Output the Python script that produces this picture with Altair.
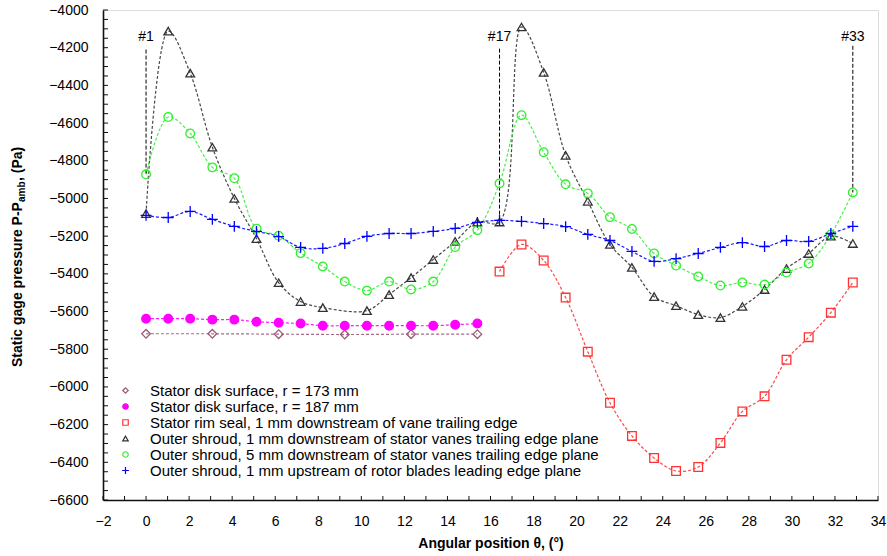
import altair as alt
import pandas as pd

# ---------------- data ----------------
positions = [0.0, 1.03, 2.05, 3.08, 4.10, 5.13, 6.16, 7.18, 8.21, 9.23, 10.26,
             11.29, 12.31, 13.34, 14.36, 15.39, 16.42, 17.44, 18.47, 19.49,
             20.52, 21.55, 22.57, 23.60, 24.62, 25.65, 26.68, 27.70, 28.73,
             29.75, 30.78, 31.81, 32.83]

disk173_pos = [0.0, 3.08, 6.16, 9.23, 12.31, 15.39]
disk173 = [-5718, -5718, -5720, -5722, -5720, -5720]

disk187_pos = positions[:16]
disk187 = [-5638, -5638, -5638, -5643, -5643, -5654, -5659, -5664, -5675,
           -5675, -5675, -5675, -5675, -5675, -5670, -5664]

rim_pos = positions[16:]
rim = [-5388, -5244, -5329, -5526, -5813, -6084, -6260, -6377, -6446, -6425,
       -6297, -6130, -6050, -5856, -5736, -5606, -5446]

shroud1 = [-5080, -4112, -4335, -4728, -5000, -5213, -5447, -5547, -5579, None,
           -5595, -5510, -5420, -5324, -5228, -5125, -5125, -4090, -4331,
           -4771, -5015, -5244, -5366, -5521, -5569, -5616, -5632, -5573,
           -5483, -5372, -5292, -5200, -5239]

shroud5 = [-4872, -4568, -4655, -4835, -4893, -5160, -5198, -5290, -5361,
           -5441, -5489, -5441, -5483, -5441, -5258, -5168, -4920, -4558,
           -4755, -4925, -4973, -5099, -5162, -5292, -5356, -5414, -5462,
           -5446, -5457, -5393, -5345, -5191, -4968]

rotor = [-5090, -5101, -5069, -5111, -5148, -5175, -5202, -5260, -5265,
         -5239, -5201, -5186, -5186, -5175, -5159, -5127, -5116, -5122,
         -5133, -5149, -5191, -5223, -5281, -5334, -5319, -5292, -5260,
         -5234, -5255, -5223, -5228, -5186, -5148]

series_names = [
    "Stator disk surface, r = 173 mm",
    "Stator disk surface, r = 187 mm",
    "Stator rim seal, 1 mm downstream of vane trailing edge",
    "Outer shroud, 1 mm downstream of stator vanes trailing edge plane",
    "Outer shroud, 5 mm downstream of stator vanes trailing edge plane",
    "Outer shroud, 1 mm upstream of rotor blades leading edge plane",
]
series_colors = ["#9a5a78", "#ff00ff", "#ff3333", "#333333", "#33ee33", "#0000ff"]
series_fills = ["transparent", "#ff00ff", "transparent", "transparent",
                "transparent", "transparent"]
series_shapes = ["diamond", "circle", "square", "triangle-up", "circle",
                 "M-1.25,0H1.25M0,-1.25V1.25"]

marker_x = [0.0, 16.42, 32.83]
marker_top = [-4210, -4205, -4190]
marker_bottom = [-4872, -5116, -4968]
marker_label = ["#1", "#17", "#33"]
marker_label_y = [-4145, -4145, -4145]

y_labels = list(range(-6600, -3999, 200))
x_labels = list(range(-2, 35, 2))
y_minor = list(range(-6600, -3999, 50))
x_minor = list(range(-2, 35, 1))

# ---------------- tables ----------------
rows = []
for xs, ys, name in [
    (disk173_pos, disk173, series_names[0]),
    (disk187_pos, disk187, series_names[1]),
    (rim_pos, rim, series_names[2]),
    (positions, shroud1, series_names[3]),
    (positions, shroud5, series_names[4]),
    (positions, rotor, series_names[5]),
]:
    for xv, yv in zip(xs, ys):
        if yv is not None:
            rows.append({"theta": xv, "p": yv, "series": name})
df = pd.DataFrame(rows)

markers = pd.DataFrame({"x": marker_x, "top": marker_top, "bottom": marker_bottom,
                        "label": marker_label, "ly": marker_label_y})

FONT = "Liberation Sans"
xscale = alt.Scale(domain=[-2, 34], nice=False, zero=False)
yscale = alt.Scale(domain=[-6600, -4000], nice=False, zero=False)

xaxis = alt.Axis(values=x_labels, ticks=False, tickSize=0, grid=False,
                 title=None, labelPadding=14, labelFontSize=14, format="d",
                 domainColor="#111111", domainWidth=1.6, labelFlush=False,
                 labelOverlap=False)
yaxis = alt.Axis(values=y_labels, ticks=False, tickSize=0, grid=False,
                 title=None, labelPadding=15, labelFontSize=14, format="d",
                 domainColor="#111111", domainWidth=1.6, labelOverlap=False,
                 labelFlush=False)


def XQ(field):
    return alt.X(field, type="quantitative", scale=xscale, axis=xaxis)


def YQ(field):
    return alt.Y(field, type="quantitative", scale=yscale, axis=yaxis)


layers = []

# series lines
for name, col in zip(series_names, series_colors):
    layers.append(
        alt.Chart(df).transform_filter(alt.datum.series == name)
        .mark_line(color=col, strokeWidth=1.2, strokeDash=[3, 2],
                   interpolate="catmull-rom", opacity=0.9)
        .encode(x=XQ("theta"), y=YQ("p"))
    )

# marker vertical dashed lines
layers.append(
    alt.Chart(markers).mark_rule(color="#000000", strokeWidth=1, strokeDash=[4, 2])
    .encode(x=XQ("x"), y=YQ("top"), y2="bottom:Q")
)
layers.append(
    alt.Chart(markers).mark_text(font=FONT, fontSize=14, color="#000000",
                                 baseline="middle", align="center")
    .encode(x=XQ("x"), y=YQ("ly"), text="label:N")
)

# points with legend
leg = alt.Legend(orient="none", legendX=15, legendY=373, title=None, padding=0,
                 labelFont=FONT, labelFontSize=15, labelColor="#000000",
                 labelLimit=0, symbolSize=30, symbolStrokeWidth=1.2,
                 rowPadding=0, labelOffset=17)
sort_dom = series_names
layers.append(
    alt.Chart(df).mark_point(size=75, strokeWidth=1.3, opacity=1)
    .encode(
        x=XQ("theta"), y=YQ("p"),
        shape=alt.Shape("series:N", scale=alt.Scale(domain=sort_dom, range=series_shapes),
                        legend=leg),
        stroke=alt.Stroke("series:N", scale=alt.Scale(domain=sort_dom, range=series_colors),
                          legend=leg),
        fill=alt.Fill("series:N", scale=alt.Scale(domain=sort_dom, range=series_fills),
                      legend=leg),
    )
)

# inside tick marks
layers.append(
    alt.Chart(pd.DataFrame({"v": y_minor})).mark_rule(color="#111111", strokeWidth=1)
    .encode(y=YQ("v"), x=alt.value(0), x2=alt.value(5))
)
layers.append(
    alt.Chart(pd.DataFrame({"v": x_minor})).mark_rule(color="#111111", strokeWidth=1)
    .encode(x=XQ("v"), y=alt.value(490), y2=alt.value(486))
)

# axis titles as text
layers.append(
    alt.Chart(pd.DataFrame({"t": ["Angular position θ, (°)"]}))
    .mark_text(font=FONT, fontSize=14, fontWeight="bold", color="#000000",
               align="center", baseline="middle")
    .encode(text="t:N", x=alt.value(388), y=alt.value(534))
)
layers.append(
    alt.Chart(pd.DataFrame({"t": ["Static gage pressure P-P"]}))
    .mark_text(font=FONT, fontSize=14, fontWeight="bold", color="#000000",
               align="left", baseline="middle", angle=270)
    .encode(text="t:N", x=alt.value(-85), y=alt.value(357))
)
layers.append(
    alt.Chart(pd.DataFrame({"t": ["amb"]}))
    .mark_text(font=FONT, fontSize=10, fontWeight="bold", color="#000000",
               align="left", baseline="middle", angle=270)
    .encode(text="t:N", x=alt.value(-81), y=alt.value(192))
)
layers.append(
    alt.Chart(pd.DataFrame({"t": [", (Pa)"]}))
    .mark_text(font=FONT, fontSize=14, fontWeight="bold", color="#000000",
               align="left", baseline="middle", angle=270)
    .encode(text="t:N", x=alt.value(-85), y=alt.value(171))
)

chart = alt.layer(*layers).properties(
    width=775, height=490,
    autosize=alt.AutoSizeParams(type="none"),
    padding={"left": 103, "top": 10, "right": 9, "bottom": 56},
).configure_view(
    stroke="#444444", strokeWidth=1.5
).configure_axis(
    labelFont=FONT, labelColor="#000000", labelOverlap=False
).configure(background="white")

chart.save("out.html", embed_options={"renderer": "svg", "actions": False})
